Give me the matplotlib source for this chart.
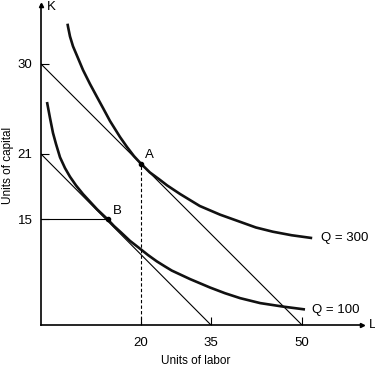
import numpy as np
import matplotlib
matplotlib.use("Agg")
import matplotlib.pyplot as plt

plt.rcParams['font.family'] = ['Liberation Sans', 'DejaVu Sans']

# Isocost lines (L intercept, K intercept)
isocost_high = ([0, 50], [30, 0])
isocost_low = ([0, 35], [21, 0])

# Isoquants (L, K)
q300_L = [5.3, 5.4, 5.8, 6.4, 7.4, 8.4, 9.8, 11.2, 12.4, 13.8, 15.8, 17.2, 18.6, 20.0,
          21.9, 24.1, 25.6, 28.4, 32.6, 36.5, 39.8, 42.4, 45.2, 48.3, 51.7]
q300_K = [34.1, 33.8, 32.8, 31.8, 30.6, 29.4, 28.0, 26.7, 25.6, 24.3, 22.7, 21.7, 20.8, 20.1,
          19.3, 18.6, 18.1, 17.3, 16.2, 15.4, 14.6, 13.8, 13.2, 12.7, 12.3]
q100_L = [1.2, 1.8, 2.4, 3.0, 3.8, 4.8, 5.8, 7.0, 8.4, 9.8, 11.2, 13.4, 14.6, 16.0, 17.8,
          19.8, 21.5, 23.4, 25.1, 26.6, 30.5, 34.8, 37.3, 39.8, 43.1, 46.9, 50.5]
q100_K = [26.2, 24.6, 23.1, 22.0, 20.7, 19.7, 18.9, 18.1, 17.3, 16.6, 15.9, 14.9, 14.0, 13.1, 11.9,
          10.8, 9.9, 9.0, 8.3, 7.7, 6.5, 5.3, 4.5, 3.8, 3.1, 2.6, 2.2]

point_A = (20, 20.1)
point_B = (13.4, 15)

x_ticks = [20, 35, 50]
y_ticks = [15, 21, 30]

# the drawing is hand-scaled: the gaps between ticks are not equal
x_breaks, x_px = [0, 20, 35, 50, 60], [0, 100, 170, 261, 321]
y_breaks, y_px = [0, 15, 21, 30, 36], [0, 106, 171, 261, 320]


def fx(v):
    return np.interp(v, x_breaks, x_px)


def ix(v):
    return np.interp(v, x_px, x_breaks)


def fy(v):
    return np.interp(v, y_breaks, y_px)


def iy(v):
    return np.interp(v, y_px, y_breaks)


fig = plt.figure(figsize=(3.75, 3.68), dpi=100)
ax = fig.add_axes([41 / 375, 43 / 368, 321 / 375, 320 / 368])
ax.set_xscale('function', functions=(fx, ix))
ax.set_yscale('function', functions=(fy, iy))
ax.set_xlim(0, 60)
ax.set_ylim(0, 36)

ax.plot(*isocost_high, color='black', lw=0.8)
ax.plot(*isocost_low, color='black', lw=0.8)
ax.plot(q300_L, q300_K, color='#111111', lw=1.9, solid_capstyle='butt', solid_joinstyle='round')
ax.plot(q100_L, q100_K, color='#111111', lw=1.9, solid_capstyle='butt', solid_joinstyle='round')

ax.plot([0, point_B[0]], [point_B[1], point_B[1]], color='black', lw=0.8)
ax.plot([point_A[0], point_A[0]], [0, point_A[1]], color='black', lw=0.8, ls=(0, (3, 2)))
ax.plot(*point_A, 'o', color='black', ms=3)
ax.plot(*point_B, 'o', color='black', ms=3)

ax.text(20.9, 20.9, "A", fontsize=9.5, ha='left', va='center')
ax.text(14.4, 15.7, "B", fontsize=9.5, ha='left', va='center')
ax.text(53.1, 12.3, "Q = 300", fontsize=9.5, ha='left', va='center')
ax.text(51.6, 2.1, "Q = 100", fontsize=9.5, ha='left', va='center')

for side in ['top', 'right']:
    ax.spines[side].set_visible(False)
for side in ['left', 'bottom']:
    ax.spines[side].set_linewidth(1.2)

# axis arrow heads and letters
ax.plot(1, 0, '>', color='black', ms=3, transform=ax.transAxes, clip_on=False)
ax.plot(0, 1, '^', color='black', ms=3, transform=ax.transAxes, clip_on=False)
ax.text(1.02, 0.0, "L", transform=ax.transAxes, fontsize=9.5, ha='left', va='center')
ax.text(0.018, 0.995, "K", transform=ax.transAxes, fontsize=9.5, ha='left', va='center')

ax.set_xticks(x_ticks)
ax.set_xticklabels([str(t) for t in x_ticks])
ax.set_yticks(y_ticks)
ax.set_yticklabels([str(t) for t in y_ticks])
ax.minorticks_off()
ax.tick_params(direction='in', length=6, width=0.8, labelsize=9.5)
ax.tick_params(axis='x', pad=9)
ax.tick_params(axis='y', pad=6)

ax.set_xlabel("Units of labor", fontsize=8.5)
ax.xaxis.set_label_coords(0.483, -0.095)
ax.set_ylabel("Units of capital", fontsize=8.5)
ax.yaxis.set_label_coords(-0.085, 0.5)

fig.savefig("out.png", dpi=100)
